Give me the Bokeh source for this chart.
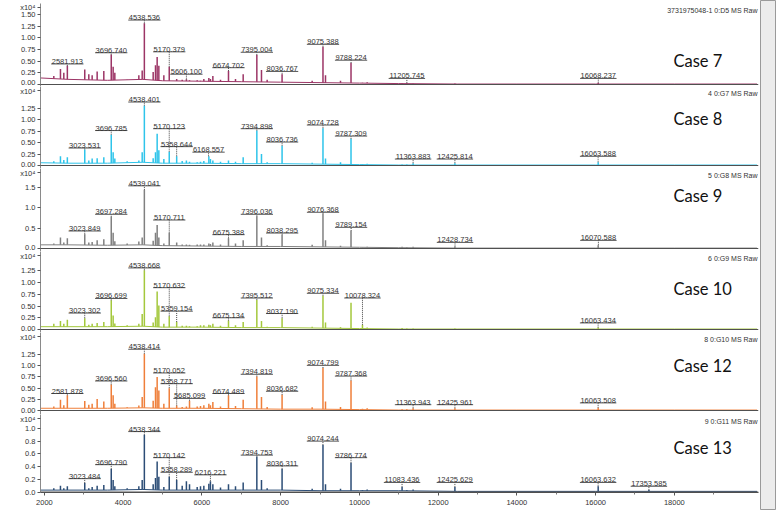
import numpy as np
from bokeh.plotting import figure
from bokeh.layouts import column, row
from bokeh.models import Range1d, FixedTicker, Label, Span, PrintfTickFormatter, ColumnDataSource
from bokeh.embed import file_html
from bokeh.resources import INLINE
from bokeh.core.properties import value

# ---------------- DATA ----------------
case_names = ["Case 7", "Case 8", "Case 9", "Case 10", "Case 12", "Case 13"]
run_ids = ["3731975048-1 0:D5 MS Raw", "4 0:G7 MS Raw", "5 0:G8 MS Raw",
           "6 0:G9 MS Raw", "8 0:G10 MS Raw", "9 0:G11 MS Raw"]
y_unit = "x10⁴"

x_ticks = [2000, 4000, 6000, 8000, 10000, 12000, 14000, 16000, 18000]
x_minor = [3000, 5000, 7000, 9000, 11000, 13000, 15000, 17000, 19000]

y_ticks = [[0, 0.25, 0.5, 0.75, 1.0, 1.25, 1.5],
           [0, 0.25, 0.5, 0.75, 1.0, 1.25],
           [0, 0.5, 1.0, 1.5],
           [0, 0.25, 0.5, 0.75, 1.0, 1.25],
           [0, 0.25, 0.5, 0.75, 1.0, 1.25],
           [0, 0.2, 0.4, 0.6, 0.8, 1.0]]

# peak positions (m/z), shared by all spectra
peak_mz = [2238, 2407, 2492, 2582, 3024, 3127, 3212, 3339, 3508, 3697, 3745, 3788,
           4101, 4398, 4483, 4538, 4762, 4821, 4863, 4906, 5033, 5170, 5359, 5499,
           5606, 5685, 5880, 5964, 6049, 6176, 6216, 6278, 6472, 6675, 6853, 7048,
           7395, 7513, 7657, 8036, 8800, 9075, 9139, 9520, 9787, 10078, 10197,
           11084, 11205, 11364, 12426, 16065, 17354]

# peak intensities (x10^4)
case7_int = [0.18, 0.33, 0.25, 0.40, 0.32, 0.22, 0.20, 0.28, 0.29, 0.64, 0.38, 0.25,
             0.10, 0.20, 0.30, 1.31, 0.27, 0.41, 0.59, 0.40, 0.20, 0.38, 0.12, 0.10,
             0.11, 0.09, 0.09, 0.08, 0.12, 0.14, 0.12, 0.18, 0.10, 0.29, 0.12, 0.22,
             0.63, 0.31, 0.10, 0.22, 0.08, 0.81, 0.20, 0.08, 0.46, 0.04, 0.05,
             0.03, 0.03, 0.02, 0.02, 0.04, 0.01]
case8_int = [0.09, 0.20, 0.12, 0.18, 0.35, 0.11, 0.15, 0.16, 0.18, 0.67, 0.29, 0.15,
             0.09, 0.11, 0.29, 1.30, 0.16, 0.29, 0.69, 0.33, 0.14, 0.30, 0.20, 0.10,
             0.11, 0.08, 0.07, 0.08, 0.10, 0.20, 0.14, 0.11, 0.08, 0.11, 0.08, 0.18,
             0.76, 0.25, 0.07, 0.43, 0.06, 0.81, 0.15, 0.07, 0.58, 0.03, 0.04,
             0.02, 0.02, 0.05, 0.05, 0.07, 0.01]
case9_int = [0.12, 0.27, 0.15, 0.25, 0.35, 0.15, 0.16, 0.20, 0.23, 0.78, 0.39, 0.18,
             0.12, 0.17, 0.27, 1.44, 0.19, 0.39, 0.58, 0.27, 0.12, 0.39, 0.15, 0.10,
             0.10, 0.09, 0.10, 0.10, 0.10, 0.12, 0.11, 0.15, 0.10, 0.25, 0.12, 0.20,
             0.79, 0.27, 0.08, 0.34, 0.09, 0.86, 0.20, 0.07, 0.43, 0.03, 0.04,
             0.04, 0.03, 0.04, 0.05, 0.08, 0.01]
case10_int = [0.12, 0.18, 0.12, 0.21, 0.24, 0.10, 0.12, 0.14, 0.16, 0.62, 0.30, 0.13,
              0.09, 0.12, 0.33, 1.26, 0.15, 0.26, 0.81, 0.51, 0.12, 0.28, 0.16, 0.08,
              0.08, 0.07, 0.07, 0.09, 0.09, 0.10, 0.09, 0.12, 0.08, 0.19, 0.09, 0.16,
              0.63, 0.18, 0.06, 0.24, 0.06, 0.72, 0.15, 0.05, 0.57, 0.10, 0.04,
              0.03, 0.02, 0.02, 0.02, 0.04, 0.01]
case12_int = [0.09, 0.24, 0.12, 0.34, 0.21, 0.13, 0.15, 0.26, 0.20, 0.58, 0.34, 0.15,
              0.07, 0.11, 0.30, 1.27, 0.22, 0.52, 0.75, 0.45, 0.15, 0.50, 0.11, 0.08,
              0.09, 0.22, 0.09, 0.10, 0.12, 0.15, 0.12, 0.19, 0.09, 0.34, 0.10, 0.24,
              0.76, 0.30, 0.08, 0.35, 0.07, 0.95, 0.20, 0.08, 0.67, 0.04, 0.05,
              0.03, 0.03, 0.05, 0.05, 0.06, 0.01]
case13_int = [0.06, 0.10, 0.06, 0.09, 0.14, 0.06, 0.08, 0.10, 0.11, 0.36, 0.19, 0.09,
              0.06, 0.09, 0.19, 0.90, 0.12, 0.22, 0.48, 0.24, 0.08, 0.24, 0.19, 0.10,
              0.17, 0.12, 0.08, 0.09, 0.10, 0.13, 0.17, 0.12, 0.07, 0.12, 0.09, 0.15,
              0.56, 0.19, 0.06, 0.36, 0.05, 0.74, 0.12, 0.05, 0.46, 0.03, 0.04,
              0.08, 0.03, 0.04, 0.08, 0.09, 0.03]

# baseline level of each spectrum
base_mz = [1900, 2600, 3600, 4500, 5000, 6000, 7000, 8000, 9000, 10000, 11000,
           12500, 14000, 16000, 18000, 20100]
case7_base = [0.14, 0.11, 0.09, 0.11, 0.08, 0.07, 0.06, 0.05, 0.04, 0.03, 0.02,
              0.01, 0.01, 0.01, 0.01, 0.01]
case8_base = [0.06, 0.05, 0.05, 0.07, 0.05, 0.05, 0.04, 0.04, 0.03, 0.02, 0.01,
              0.01, 0.01, 0.01, 0.01, 0.01]
case9_base = [0.09, 0.09, 0.08, 0.09, 0.07, 0.06, 0.05, 0.05, 0.04, 0.03, 0.02,
              0.01, 0.01, 0.01, 0.01, 0.01]
case10_base = [0.06, 0.06, 0.06, 0.07, 0.05, 0.05, 0.04, 0.04, 0.03, 0.02, 0.01,
               0.01, 0.01, 0.01, 0.01, 0.01]
case12_base = [0.05, 0.05, 0.05, 0.06, 0.05, 0.05, 0.04, 0.03, 0.03, 0.02, 0.01,
               0.01, 0.01, 0.01, 0.01, 0.01]
case13_base = [0.03, 0.03, 0.03, 0.04, 0.03, 0.03, 0.03, 0.03, 0.02, 0.02, 0.02,
               0.01, 0.01, 0.01, 0.01, 0.01]

# annotated peaks and the level (x10^4) at which each annotation sits
case7_labels = ["2581.913", "3696.740", "4538.536", "5170.379", "5606.100", "6674.702",
                "7395.004", "8036.767", "9075.388", "9788.224", "11205.745", "16068.237"]
case7_label_level = [0.44, 0.68, 1.38, 0.70, 0.22, 0.36, 0.69, 0.28, 0.86, 0.52, 0.13, 0.13]
case8_labels = ["3023.531", "3696.785", "4538.401", "5170.123", "5358.644", "6168.557",
                "7394.898", "8036.736", "9074.728", "9787.309", "11363.883", "12425.814",
                "16063.588"]
case8_label_level = [0.38, 0.76, 1.38, 0.80, 0.41, 0.29, 0.80, 0.51, 0.88, 0.64, 0.14, 0.14, 0.20]
case9_labels = ["3023.849", "3697.284", "4539.041", "5170.711", "6675.388", "7396.036",
                "8038.295", "9076.368", "9789.154", "12428.734", "16070.588"]
case9_label_level = [0.43, 0.84, 1.54, 0.70, 0.34, 0.84, 0.38, 0.89, 0.52, 0.15, 0.20]
case10_labels = ["3023.302", "3696.699", "4538.668", "5170.632", "5359.154", "6675.134",
                 "7395.512", "8037.190", "9075.334", "10078.324", "16063.434"]
case10_label_level = [0.35, 0.66, 1.31, 0.89, 0.39, 0.25, 0.67, 0.34, 0.77, 0.67, 0.14]
case12_labels = ["2581.878", "3696.560", "4538.414", "5170.052", "5358.771", "5685.099",
                 "6674.489", "7394.819", "8036.682", "9074.799", "9787.368", "11363.943",
                 "12425.961", "16063.508"]
case12_label_level = [0.38, 0.66, 1.37, 0.84, 0.60, 0.27, 0.38, 0.81, 0.43, 1.01, 0.77,
                      0.13, 0.13, 0.17]
case13_labels = ["3023.484", "3696.790", "4538.344", "5170.142", "5358.289", "6216.221",
                 "7394.753", "8036.311", "9074.244", "9786.774", "11083.436", "12425.629",
                 "16063.632", "17353.585"]
case13_label_level = [0.21, 0.43, 0.95, 0.54, 0.31, 0.27, 0.58, 0.41, 0.80, 0.54, 0.15,
                      0.15, 0.15, 0.09]

intensities = [case7_int, case8_int, case9_int, case10_int, case12_int, case13_int]
baselines = [case7_base, case8_base, case9_base, case10_base, case12_base, case13_base]
labels = [case7_labels, case8_labels, case9_labels, case10_labels, case12_labels, case13_labels]
label_levels = [case7_label_level, case8_label_level, case9_label_level,
                case10_label_level, case12_label_level, case13_label_level]

# ---------------- LAYOUT / STYLE ----------------
colors = ["#9c3566", "#2ec4ea", "#808080", "#a4c83c", "#ef7f3a", "#2c4d76"]
FIG_W = 760
LEFT, RIGHT = 40, 2
STRIP_W = 16
X0 = 1900.0
MZ_PER_PX = 25.4
X1 = X0 + (FIG_W - LEFT - RIGHT) * MZ_PER_PX
panel_top = [3, 86, 168, 251, 332, 414]      # page px (frame tops)
panel_base = [84, 165, 248, 329, 410, 492]   # page px of intensity 0
page_bottom = 520
ppu = [46.7, 46.0, 40.7, 47.0, 44.7, 64.0]   # px per 1 x10^4
case_px = [24, 47, 53, 41, 45, 44]           # px above zero line
CASE_X_PX = 633                              # px from frame left
UNIT_PX = 4                                  # unit label: px below frame top
LBL_FS = 7.5
SANS = "Liberation Sans"
TXT = "#333333"

xr = Range1d(X0, X1)
fmts = ["%.2f", "%.2f", "%.1f", "%.2f", "%.2f", "%.1f"]

figs = []
for i in range(6):
    last = (i == 5)
    first = (i == 0)
    fig_top = 0 if first else panel_top[i]
    fig_bottom = page_bottom if last else panel_top[i + 1]
    frame_bottom = panel_base[i] if last else panel_top[i + 1]
    y_start = -0.5 / ppu[i] if last else -(frame_bottom - panel_base[i]) / ppu[i]
    y_end = (panel_base[i] - panel_top[i]) / ppu[i]
    p = figure(width=FIG_W, height=fig_bottom - fig_top, x_range=xr,
               y_range=Range1d(y_start, y_end), output_backend="svg",
               toolbar_location=None, min_border_left=LEFT, min_border_right=RIGHT,
               min_border_top=panel_top[i] - fig_top,
               min_border_bottom=(page_bottom - panel_base[i]) if last else 0,
               x_axis_location="below" if last else None)
    p.outline_line_color = None
    p.grid.visible = False
    p.background_fill_color = "white"
    p.border_fill_color = "white"

    # unit label "x10⁴" shown as the topmost tick label of each y axis
    unit_tick = round(y_end - UNIT_PX / ppu[i], 4)
    ya = p.yaxis[0]
    ya.ticker = FixedTicker(ticks=list(y_ticks[i]) + [unit_tick], minor_ticks=[])
    ya.formatter = PrintfTickFormatter(format=fmts[i])
    ya.major_label_overrides = {unit_tick: y_unit}
    ya.axis_line_color = "#8a8a8a"
    ya.major_tick_line_color = "#555555"
    ya.major_tick_out = 3
    ya.major_tick_in = 0
    ya.minor_tick_line_color = None
    ya.major_label_standoff = 2
    ya.major_label_text_font = SANS
    ya.major_label_text_font_size = "7.5px"
    ya.major_label_text_color = TXT

    if last:
        xa = p.xaxis[0]
        xa.ticker = FixedTicker(ticks=x_ticks, minor_ticks=x_minor)
        xa.axis_line_color = "#505050"
        xa.major_tick_line_color = "#555555"
        xa.minor_tick_line_color = "#777777"
        xa.major_tick_out = 3
        xa.major_tick_in = 0
        xa.minor_tick_out = 2
        xa.minor_tick_in = 0
        xa.major_label_standoff = 4
        xa.major_label_text_font = SANS
        xa.major_label_text_font_size = "7.5px"
        xa.major_label_text_color = TXT

    col = colors[i]
    ints = intensities[i]
    src = ColumnDataSource(dict(x=peak_mz, top=ints))
    p.segment(x0="x", y0=0, x1="x", y1="top", source=src, line_color=col, line_width=1.5)
    p.varea(x=base_mz, y1=y_start, y2=baselines[i], fill_color="white")
    p.line(base_mz, baselines[i], line_color=col, line_width=1)
    p.add_layout(Span(location=0, dimension="width", line_color="#505050",
                      line_width=1, level="overlay"))

    # annotations
    lx, lvl, top_h, ux0, ux1, ty = [], [], [], [], [], []
    pk = np.array(peak_mz, dtype=float)
    for t, lev in zip(labels[i], label_levels[i]):
        m = float(t)
        j = int(np.argmin(np.abs(pk - m)))
        ndig = sum(c.isdigit() for c in t)
        half = (LBL_FS * (0.556 * ndig + 0.278) / 2 + 0.5) * MZ_PER_PX
        lx.append(m); lvl.append(lev); top_h.append(ints[j])
        ux0.append(m - half); ux1.append(m + half)
        ty.append(lev + 2.5 / ppu[i])
    asrc = ColumnDataSource(dict(x=lx, lev=lvl, h=top_h, ux0=ux0, ux1=ux1, ty=ty,
                                 txt=labels[i]))
    p.segment(x0="x", y0="h", x1="x", y1="lev", source=asrc, line_color="#444444",
              line_width=1, line_dash="1 1")
    p.segment(x0="ux0", y0="lev", x1="ux1", y1="lev", source=asrc,
              line_color="#555555", line_width=1)
    p.text(x="x", y="ty", text="txt", source=asrc, text_align="center",
           text_baseline="alphabetic", text_font=value(SANS),
           text_font_size=f"{LBL_FS}px", text_color=TXT)

    p.add_layout(Label(x=X1, y=y_end, x_offset=-1, y_offset=-7, text=run_ids[i],
                       text_align="right", text_baseline="middle", text_font=SANS,
                       text_font_size="7px", text_color=TXT))
    p.add_layout(Label(x=X0 + CASE_X_PX * MZ_PER_PX, y=case_px[i] / ppu[i],
                       text=case_names[i], text_baseline="middle", text_font="Lato",
                       text_font_size="16.5px", text_color="#111111"))
    if last:
        p.add_layout(Label(x=X1, y=y_start, x_offset=-3, y_offset=-11, text="m/z",
                           text_align="right", text_baseline="middle", text_font=SANS,
                           text_font_size="7.5px", text_color=TXT))
    figs.append(p)

# the viewer's vertical scroll bar at the right edge of the screenshot
strip = figure(width=STRIP_W, height=page_bottom - 10, output_backend="svg",
               toolbar_location=None, x_axis_location=None, y_axis_location=None,
               min_border=0, x_range=Range1d(0, 1), y_range=Range1d(0, 1))
strip.grid.visible = False
strip.background_fill_color = "#ececec"
strip.border_fill_color = "#ececec"
strip.outline_line_color = "#9a9a9a"
strip.outline_line_width = 1

layout = row(column(*figs), strip)
open("out.html", "w").write(file_html(layout, INLINE))
